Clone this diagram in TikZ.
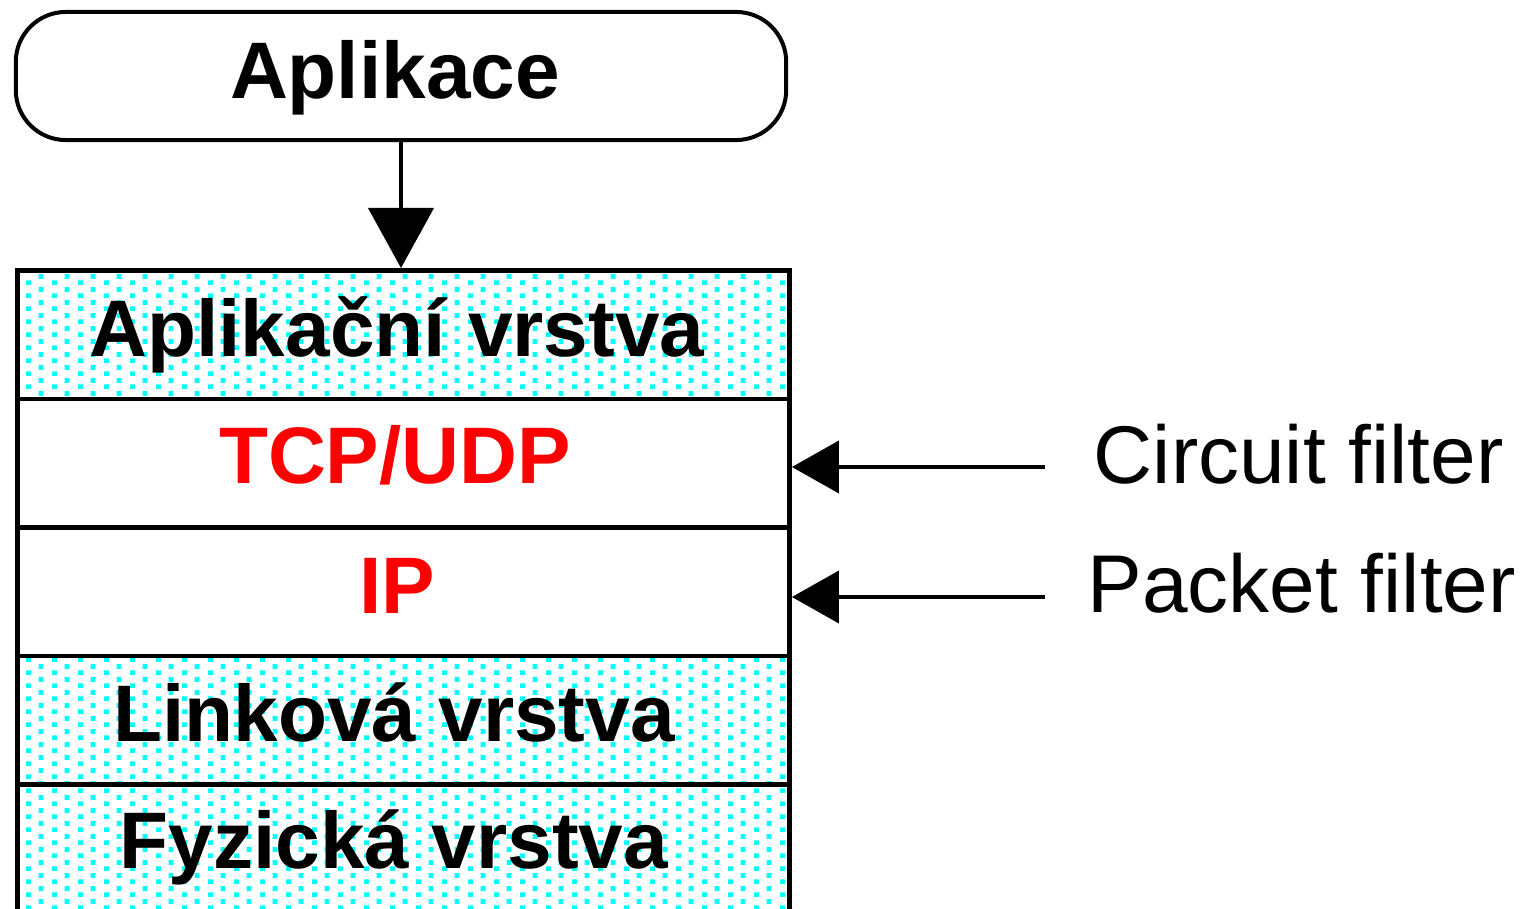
\documentclass[tikz,border=0pt]{standalone}
\usepackage{fontspec}
\setmainfont{Liberation Sans}
\usetikzlibrary{arrows.meta,patterns}
\pgfdeclarepatternformonly{cyandots}{\pgfpointorigin}{\pgfpoint{0.26cm}{0.13cm}}{\pgfpoint{0.26cm}{0.13cm}}{%
  \pgfpathrectangle{\pgfpoint{0cm}{0cm}}{\pgfpoint{0.05cm}{0.05cm}}%
  \pgfpathrectangle{\pgfpoint{0.13cm}{0.065cm}}{\pgfpoint{0.05cm}{0.05cm}}%
  \pgfusepath{fill}}
\begin{document}
\begin{tikzpicture}[x=0.01cm,y=-0.01cm,
  bx/.style={font=\fontsize{22.8}{26}\selectfont\bfseries, inner sep=0pt, anchor=base},
  lbl/.style={font=\fontsize{23.3}{27}\selectfont, inner sep=0pt, anchor=base west},
  layer/.style={draw, line width=0.045cm, minimum width=7.72cm, minimum height=1.285cm, inner sep=0pt, anchor=north west},
  dotlayer/.style={layer, pattern=cyandots, pattern color=cyan},
  conn/.style={line width=0.04cm},
  apptop/.style={draw, line width=0.04cm, rounded corners=0.5cm, minimum width=7.7cm, minimum height=1.28cm, inner sep=0pt}]
\fill[white] (0,0) rectangle (1523,909);
\useasboundingbox (0,0) rectangle (1523,909);
% top application node
\node[apptop] (app) at (401,76) {};
\node[bx] (appt) at (395,98) {Aplikace};
% layer stack
\node[dotlayer] (r1) at (15,268) {};
\node[layer] (r2) at (15,396.5) {};
\node[layer] (r3) at (15,525) {};
\node[dotlayer] (r4) at (15,653.5) {};
\node[dotlayer, minimum height=1.5cm] (r5) at (15,782) {};
\node[bx] (t1) at (397,356) {Aplikační vrstva};
\node[bx, text=red] (t2) at (395,483) {TCP/UDP};
\node[bx, text=red] (t3) at (397,613) {IP};
\node[bx] (t4) at (394,741) {Linková vrstva};
\node[bx] (t5) at (394,868) {Fyzická vrstva};
% connectors
\draw[conn, -{Triangle[length=0.6cm, width=0.65cm]}] (app.south) -- (app.south |- r1.north);
\coordinate (cf) at (1045,467);
\coordinate (pf) at (1045,597);
\draw[conn, -{Triangle[length=0.47cm, width=0.52cm]}] (cf) -- (cf -| r2.east);
\draw[conn, -{Triangle[length=0.47cm, width=0.52cm]}] (pf) -- (pf -| r3.east);
% labels
\node[lbl] (cft) at (1093,483) {Circuit filter};
\node[lbl] (pft) at (1087,612) {Packet filter};
\end{tikzpicture}
\end{document}
